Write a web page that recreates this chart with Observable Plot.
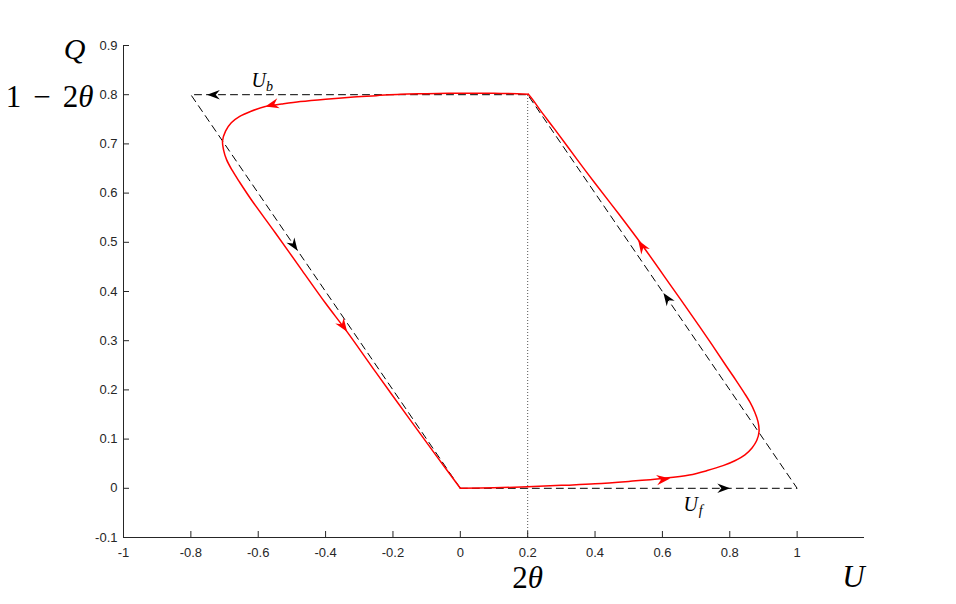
<!DOCTYPE html>
<html>
<head>
<meta charset="utf-8">
<script src="https://cdn.jsdelivr.net/npm/d3@7"></script>
<script src="https://cdn.jsdelivr.net/npm/@observablehq/plot@0.6"></script>
<style>
  html, body { margin: 0; padding: 0; background: #fff; }
  #chart { width: 956px; height: 604px; }
</style>
</head>
<body>
<div id="chart"></div>
<script>
// ---- axis ticks ----
const xTicks = [-1, -0.8, -0.6, -0.4, -0.2, 0, 0.2, 0.4, 0.6, 0.8, 1];
const xTickLabels = ["-1", "-0.8", "-0.6", "-0.4", "-0.2", "0", "0.2", "0.4", "0.6", "0.8", "1"];
const yTicks = [-0.1, 0, 0.1, 0.2, 0.3, 0.4, 0.5, 0.6, 0.7, 0.8, 0.9];
const yTickLabels = ["-0.1", "0", "0.1", "0.2", "0.3", "0.4", "0.5", "0.6", "0.7", "0.8", "0.9"];

// ---- dashed parallelogram (ideal loop) ----
const paraU = [0, 1, 0.2, -0.8, 0];
const paraQ = [0, 0, 0.8, 0.8, 0];

// ---- red loop: rising branch (0,0) -> (0.2,0.8) ----
const riseU = [0, 0.1, 0.2, 0.3, 0.4, 0.5, 0.6, 0.68, 0.733, 0.78, 0.815, 0.845, 0.866, 0.88, 0.887, 0.884, 0.874, 0.86, 0.842, 0.82, 0.79, 0.755, 0.712, 0.625, 0.539, 0.47, 0.40, 0.347, 0.28, 0.24, 0.215, 0.202];
const riseQ = [0, 0.001, 0.003, 0.006, 0.009, 0.014, 0.020, 0.027, 0.036, 0.046, 0.056, 0.068, 0.082, 0.097, 0.116, 0.135, 0.155, 0.175, 0.195, 0.218, 0.248, 0.284, 0.327, 0.412, 0.495, 0.558, 0.62, 0.668, 0.73, 0.766, 0.79, 0.801];
// ---- red loop: falling branch (0.2,0.8) -> (0,0) ----
const fallU = [0.202, 0.1, 0, -0.1, -0.178, -0.25, -0.326, -0.4, -0.475, -0.53, -0.579, -0.623, -0.655, -0.68, -0.697, -0.706, -0.703, -0.694, -0.678, -0.655, -0.62, -0.55, -0.47, -0.40, -0.336, -0.25, -0.15, -0.07, 0];
const fallQ = [0.801, 0.803, 0.803, 0.802, 0.801, 0.798, 0.795, 0.791, 0.786, 0.781, 0.776, 0.766, 0.756, 0.743, 0.726, 0.706, 0.688, 0.668, 0.647, 0.622, 0.586, 0.52, 0.443, 0.376, 0.318, 0.235, 0.14, 0.065, 0];

// ---- arrowheads (tip position + direction in data units) ----
const redArrowU = [0.623, 0.528, -0.579, -0.336];
const redArrowQ = [0.0197, 0.504, 0.776, 0.318];
const redArrowDU = [1, -0.95, -1, 1];
const redArrowDQ = [0.08, 1, -0.17, -1];
const blackArrowU = [0.801, 0.603, -0.752, -0.483];
const blackArrowQ = [0, 0.397, 0.8, 0.483];
const blackArrowDU = [1, -1, -1, 1];
const blackArrowDQ = [0, 1, 0, -1];

// ---- annotation labels ----
const labelText = ["U_b", "U_f"];
const labelU = [-0.588, 0.691];
const labelQ = [0.829, -0.033];

// ---- layout ----
const W = 956, H = 604;
const mL = 123, mR = 92, mT = 45, mB = 67;
const xDomain = [-1, 1.2], yDomain = [-0.1, 0.9];
const kx = (W - mL - mR) / (xDomain[1] - xDomain[0]);
const ky = (H - mT - mB) / (yDomain[1] - yDomain[0]);
const angle = (du, dq) => Math.atan2(-dq * ky, du * kx) * 180 / Math.PI;

const para = paraU.map((u, i) => ({u, q: paraQ[i]}));
const loop = [
  ...riseU.map((u, i) => ({u, q: riseQ[i], seg: "rise"})),
  ...fallU.map((u, i) => ({u, q: fallQ[i], seg: "fall"}))
];
const redArrows = redArrowU.map((u, i) => ({u, q: redArrowQ[i], a: angle(redArrowDU[i], redArrowDQ[i])}));
const blackArrows = blackArrowU.map((u, i) => ({u, q: blackArrowQ[i], a: angle(blackArrowDU[i], blackArrowDQ[i])}));
const labels = labelText.map((t, i) => ({t, u: labelU[i], q: labelQ[i]}));

// stealth arrowhead with its tip at the anchor point, pointing to +x
const stealth = {
  draw(context, size) {
    const s = Math.sqrt(size / Math.PI);
    const L = 1.6 * s, w = 0.6 * s;
    context.moveTo(0, 0);
    context.lineTo(-L, -w);
    context.lineTo(-0.68 * L, 0);
    context.lineTo(-L, w);
    context.closePath();
  }
};

const axisColor = "#262626";
const serif = "'Liberation Serif', 'DejaVu Serif', serif";

const chart = Plot.plot({
  width: W,
  height: H,
  marginLeft: mL,
  marginRight: mR,
  marginTop: mT,
  marginBottom: mB,
  style: {fontFamily: "'Liberation Sans', Arial, sans-serif", fontSize: "13px", background: "#fff", color: axisColor},
  x: {domain: xDomain},
  y: {domain: yDomain},
  marks: [
    Plot.ruleX([0.2], {y1: -0.1, y2: 0.8, stroke: "#555", strokeWidth: 1, strokeDasharray: "1,2"}),
    Plot.line(para, {x: "u", y: "q", stroke: "black", strokeWidth: 1, strokeDasharray: "7,5"}),
    Plot.line(loop, {x: "u", y: "q", z: "seg", stroke: "#ff0000", strokeWidth: 1.5, curve: "catmull-rom"}),
    Plot.dot(blackArrows, {x: "u", y: "q", rotate: "a", symbol: stealth, r: 8, fill: "black", stroke: "none"}),
    Plot.dot(redArrows, {x: "u", y: "q", rotate: "a", symbol: stealth, r: 8.5, fill: "#ff0000", stroke: "none"}),
    Plot.ruleY([-0.1], {stroke: axisColor}),
    Plot.ruleX([-1], {stroke: axisColor}),
    Plot.axisX(xTicks, {tickFormat: d => xTickLabels[xTicks.indexOf(d)], tickSize: -6, tickPadding: 16, color: axisColor, label: null}),
    Plot.axisY(yTicks, {tickFormat: d => yTickLabels[yTicks.indexOf(d)], tickSize: -6, tickPadding: 12, color: axisColor, label: null}),
    Plot.text(labels, {x: "u", y: "q", text: "t", fontSize: 20, fontFamily: serif, fontStyle: "italic", fill: "black"}),
    Plot.text(["Q"], {x: -1, y: 0.9, text: d => d, dx: -49, dy: 4, fontSize: 30, fontFamily: serif, fontStyle: "italic", fill: "black"}),
    Plot.text(["1 − 2θ"], {x: -1, y: 0.8, text: d => d, dx: -30, dy: 2, textAnchor: "end", fontSize: 31, fontFamily: serif, fill: "black"}),
    Plot.text(["2θ"], {x: 0.2, y: -0.1, text: d => d, dy: 41, fontSize: 31, fontFamily: serif, fill: "black"}),
    Plot.text(["U"], {x: 1.2, y: -0.1, text: d => d, dx: -11, dy: 40, fontSize: 31, fontFamily: serif, fontStyle: "italic", fill: "black"})
  ]
});

// rich text: italic theta, subscripts
function rich(el, parts) {
  while (el.firstChild) el.removeChild(el.firstChild);
  parts.forEach(p => {
    const ts = document.createElementNS("http://www.w3.org/2000/svg", "tspan");
    ts.textContent = p.t;
    ts.setAttribute("font-style", p.italic ? "italic" : "normal");
    if (p.dx) ts.setAttribute("dx", p.dx);
    if (p.sub) { ts.setAttribute("font-size", "70%"); ts.setAttribute("dy", "0.3em"); }
    el.appendChild(ts);
  });
}
d3.select(chart).selectAll("text").each(function () {
  const t = this.textContent;
  if (t === "1 − 2θ") rich(this, [{t: "1"}, {t: "−", dx: 12}, {t: "2", dx: 12}, {t: "θ", italic: true}]);
  else if (t === "2θ") rich(this, [{t: "2"}, {t: "θ", italic: true}]);
  else if (t === "U_b") rich(this, [{t: "U", italic: true}, {t: "b", italic: true, sub: true}]);
  else if (t === "U_f") rich(this, [{t: "U", italic: true}, {t: "f", italic: true, sub: true, dx: 1}]);
});
// tick label size
d3.select(chart).selectAll("g[aria-label$='tick label']").attr("font-size", 13)
  .selectAll("text").style("font-size", "13px");

document.getElementById("chart").appendChild(chart);
</script>
</body>
</html>
